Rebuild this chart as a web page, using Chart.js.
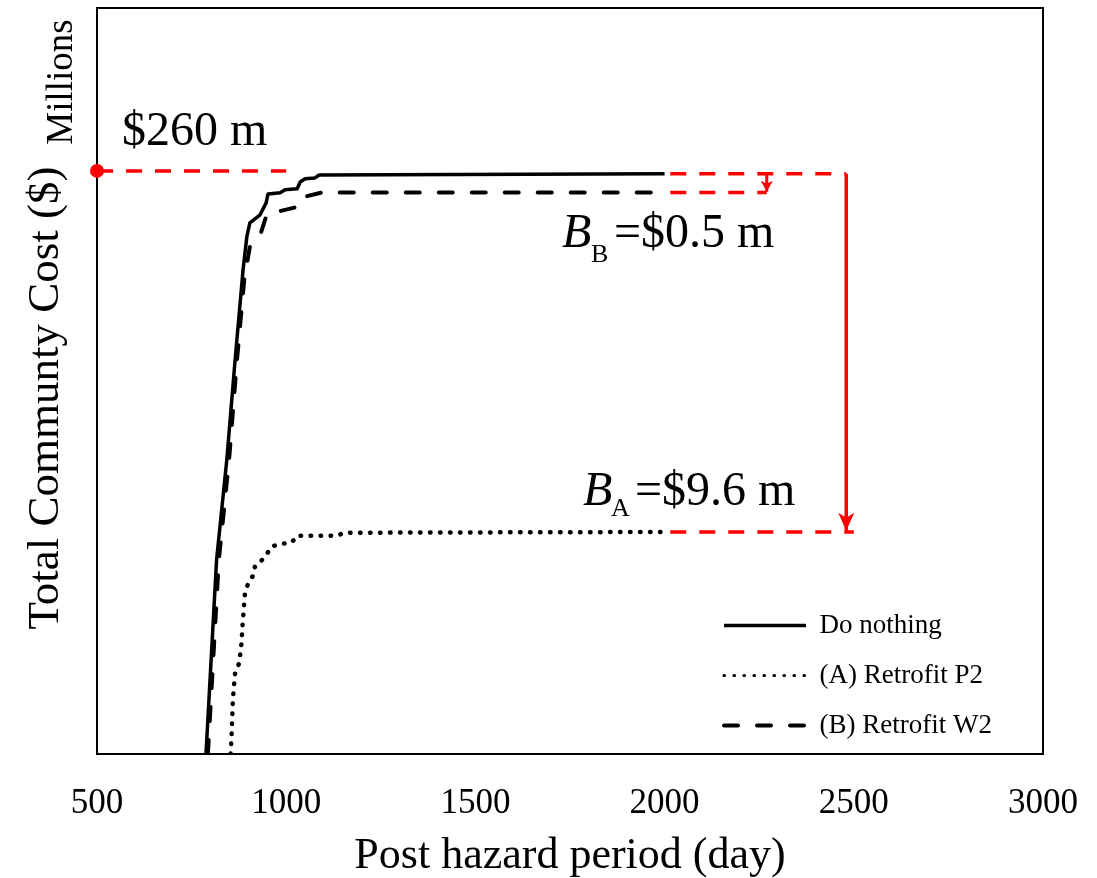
<!DOCTYPE html>
<html><head><meta charset="utf-8">
<script src="https://cdn.jsdelivr.net/npm/chart.js@4"></script>
<style>html,body{margin:0;padding:0;background:#fff}#wrap{width:1097px;height:878px;position:relative}canvas{display:block}</style>
</head><body><div id="wrap"><canvas id="c" width="1097" height="878" style="width:1097px;height:878px"></canvas></div>
<script>
// ---- data (days, cost in $ millions) ----
const xTicks = [500, 1000, 1500, 2000, 2500, 3000];
const seriesNames = ['Do nothing', '(A) Retrofit P2', '(B) Retrofit W2'];

const doNothingDay  = [788, 816, 843, 865, 886, 896, 904, 931, 947, 952, 984, 997, 1029, 1037, 1050, 1076, 1087, 2000];
const doNothingCost = [244.40, 249.62, 252.31, 255.00, 257.42, 258.31, 258.68, 258.90, 259.22, 259.46, 259.49, 259.57, 259.60, 259.78, 259.87, 259.89, 259.97, 260.00];

const p2Day  = [853, 856, 859, 865, 876, 882, 885, 889, 891, 900, 912, 918, 933, 949, 961, 988, 1015, 1028, 1133, 1155, 1990];
const p2Cost = [244.40, 244.97, 245.86, 246.58, 246.85, 247.39, 247.93, 248.46, 248.73, 249.00, 249.19, 249.46, 249.58, 249.78, 249.98, 250.05, 250.09, 250.27, 250.27, 250.35, 250.37];

const w2Day  = [793, 822, 849, 870, 889, 904, 933, 949, 984, 1029, 1039, 1055, 1095, 2000];
const w2Cost = [244.40, 249.62, 252.31, 255.00, 257.15, 258.04, 258.41, 258.92, 259.00, 259.11, 259.35, 259.40, 259.50, 259.50];

// red reference / benefit markers
const refDay = [500, 1000];        const refCost = [260.08, 260.08];
const topDay = [2015, 2480];       const topCost = [260.00, 260.00];
const gapBDay = [2015, 2270];      const gapBCost = [259.50, 259.50];
const gapADay = [2015, 2500];      const gapACost = [250.37, 250.37];
const arrowADay = [2480, 2480];    const arrowACost = [260.00, 250.40];
const arrowBDay = [2270, 2270];    const arrowBCost = [260.00, 259.52];

const labels = { top: '$260 m', bB: ['B', 'B', '=$0.5 m'], bA: ['B', 'A', '=$9.6 m'], units: 'Millions',
  yTitle: 'Total Communty Cost ($)', xTitle: 'Post hazard period (day)' };

const pts = (xs, ys) => xs.map((x, i) => ({ x, y: ys[i] }));
const RED = '#ff0000';
const SERIF = '"Liberation Serif", "Times New Roman", serif';

const redDash = (xs, ys) => ({ data: pts(xs, ys), borderColor: RED, borderWidth: 3.5, borderDash: [16, 13],
  pointRadius: 0, tension: 0, fill: false });

const overlay = {
  id: 'overlay',
  afterLayout(chart) {
    const lg = chart.legend;
    if (!lg) return;
    lg.left = 701; lg.top = 589; lg.right = 1040; lg.bottom = 800;
    lg.width = lg.right - lg.left; lg.height = lg.bottom - lg.top;
  },
  afterDraw(chart) {
    const { ctx, chartArea: a, scales: { x, y } } = chart;
    ctx.save();
    // top & right frame
    ctx.strokeStyle = '#000'; ctx.lineWidth = 2;
    ctx.beginPath();
    ctx.moveTo(a.left, a.top); ctx.lineTo(a.right, a.top); ctx.lineTo(a.right, a.bottom);
    ctx.stroke();
    // arrow heads
    const head = (dx, dy, hw, hl, notch) => {
      const px = x.getPixelForValue(dx), py = y.getPixelForValue(dy);
      ctx.fillStyle = RED;
      ctx.beginPath();
      ctx.moveTo(px, py);
      ctx.lineTo(px - hw, py - hl);
      ctx.lineTo(px, py - notch);
      ctx.lineTo(px + hw, py - hl);
      ctx.closePath();
      ctx.fill();
    };
    head(arrowADay[1], arrowACost[1], 8, 18, 13);
    head(arrowBDay[1], arrowBCost[1], 6, 11, 8);
    // texts
    ctx.fillStyle = '#000';
    ctx.textBaseline = 'alphabetic';
    ctx.textAlign = 'left';
    ctx.font = '48px ' + SERIF;
    ctx.fillText(labels.top, 122, 145);
    const sub = (parts, x0, base, subX, restX, subBase) => {
      ctx.font = 'italic 48px ' + SERIF;
      ctx.fillText(parts[0], x0, base);
      ctx.font = '26px ' + SERIF;
      ctx.fillText(parts[1], subX, subBase);
      ctx.font = '48px ' + SERIF;
      ctx.fillText(parts[2], restX, base);
    };
    sub(labels.bB, 562, 247, 591, 614, 262);
    sub(labels.bA, 583, 505, 611, 635, 516);
    // rotated texts
    ctx.textAlign = 'center';
    ctx.save();
    ctx.translate(72, 82); ctx.rotate(-Math.PI / 2);
    ctx.font = '37px ' + SERIF; ctx.fillText(labels.units, 0, 0);
    ctx.restore();
    ctx.save();
    ctx.translate(58, 398); ctx.rotate(-Math.PI / 2);
    ctx.font = '45px ' + SERIF; ctx.fillText(labels.yTitle, 0, 0);
    ctx.restore();
    ctx.restore();
  }
};

new Chart(document.getElementById('c'), {
  type: 'line',
  data: {
    datasets: [
      { label: seriesNames[0], data: pts(doNothingDay, doNothingCost), borderColor: '#000', backgroundColor: '#000',
        borderWidth: 3.5, pointRadius: 0, tension: 0, fill: false, borderJoinStyle: 'round' },
      { label: seriesNames[1], data: pts(p2Day, p2Cost), borderColor: '#000', backgroundColor: '#000',
        borderWidth: 4.5, borderDash: [0.5, 9.5], borderCapStyle: 'round', pointRadius: 0, tension: 0, fill: false },
      { label: seriesNames[2], data: pts(w2Day, w2Cost), borderColor: '#000', backgroundColor: '#000',
        borderWidth: 4, borderDash: [14, 19], borderCapStyle: 'round', pointRadius: 0, tension: 0, fill: false },
      Object.assign(redDash(refDay, refCost), { pointRadius: [7, 0], pointBackgroundColor: RED, pointBorderWidth: 0, clip: false }),
      redDash(topDay, topCost),
      redDash(gapBDay, gapBCost),
      redDash(gapADay, gapACost),
      { data: pts(arrowADay, arrowACost), borderColor: RED, borderWidth: 3.5, pointRadius: 0, tension: 0, fill: false },
      { data: pts(arrowBDay, arrowBCost), borderColor: RED, borderWidth: 3, pointRadius: 0, tension: 0, fill: false }
    ]
  },
  options: {
    responsive: false,
    animation: false,
    devicePixelRatio: 1,
    layout: { padding: { left: 0, right: 54, top: 8, bottom: 0 } },
    plugins: {
      tooltip: { enabled: false },
      legend: {
        position: 'chartArea',
        align: 'start',
        labels: {
          generateLabels: (chart) => {
            const items = Chart.defaults.plugins.legend.labels.generateLabels(chart);
            return items.map(it => {
              const ds = chart.data.datasets[it.datasetIndex];
              it.lineDash = ds.borderDash || [];
              it.lineWidth = it.datasetIndex === 1 ? 3.2 : ds.borderWidth;
              it.lineCap = ds.borderCapStyle || 'butt';
              it.strokeStyle = ds.borderColor;
              return it;
            });
          },
          filter: (it) => it.datasetIndex < 3,
          usePointStyle: true, pointStyle: 'line', pointStyleWidth: 82,
          boxHeight: 27, padding: 23, color: '#000',
          font: { family: SERIF, size: 27 }
        }
      }
    },
    scales: {
      x: {
        type: 'linear', min: 500, max: 3000,
        afterBuildTicks: (s) => { s.ticks = xTicks.map(v => ({ value: v })); },
        grid: { display: false, drawTicks: false },
        border: { color: '#000', width: 2 },
        ticks: { font: { family: SERIF, size: 35 }, color: '#000', padding: 29, maxRotation: 0, autoSkip: false,
          callback: (v) => String(v) },
        title: { display: true, text: labels.xTitle, color: '#000', font: { family: SERIF, size: 44, lineHeight: 1 }, padding: { top: 0, bottom: 0 } },
        afterFit: (s) => { s.height = 124; s.paddingLeft = 0; s.paddingRight = 0; }
      },
      y: {
        type: 'linear', min: 244.4, max: 264.46,
        ticks: { display: false },
        grid: { display: false, drawTicks: false },
        border: { color: '#000', width: 2 },
        afterFit: (s) => { s.width = 97; }
      }
    }
  },
  plugins: [overlay]
});
</script>
</body></html>
